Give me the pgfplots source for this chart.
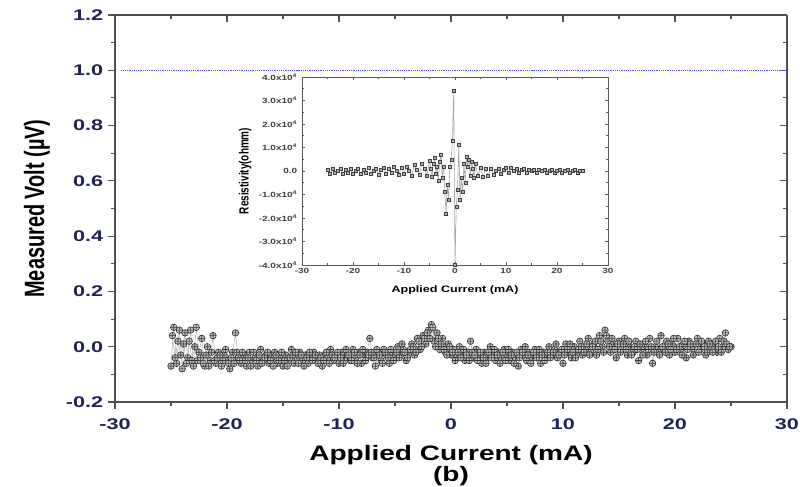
\documentclass[border=0pt]{standalone}
\usepackage{pgfplots}
\pgfplotsset{compat=1.18}
\usepackage{fontspec}
\setmainfont{Liberation Sans}
\definecolor{ticknavy}{RGB}{30,34,84}
\definecolor{axgray}{RGB}{80,80,80}

\pgfplotstableread{
x y
-25.00 -0.07
-24.75 0.07
-24.50 -0.06
-24.25 0.06
-24.00 -0.08
-23.75 0.05
-23.50 -0.04
-23.25 0.06
-23.00 -0.07
-22.75 0.07
-22.50 -0.02
-22.25 0.03
-22.00 -0.07
-21.75 0.00
-21.50 -0.05
-21.25 0.04
-21.00 -0.06
-20.75 -0.02
-20.50 -0.07
-20.25 -0.03
-20.00 -0.05
-19.75 -0.08
-19.50 -0.02
-19.25 0.05
-19.00 -0.04
-18.75 -0.06
-18.50 -0.03
-18.25 -0.07
-18.00 -0.02
-17.75 -0.05
-17.50 -0.04
-17.25 -0.07
-17.00 -0.01
-16.75 -0.05
-16.50 -0.03
-16.25 -0.06
-16.00 -0.04
-15.75 -0.02
-15.50 -0.06
-15.25 -0.04
-15.00 -0.07
-14.75 -0.03
-14.50 -0.05
-14.25 -0.01
-14.00 -0.06
-13.75 -0.04
-13.50 -0.02
-13.25 -0.05
-13.00 -0.03
-12.75 -0.06
-12.50 -0.04
-12.25 -0.02
-12.00 -0.05
-11.75 -0.03
-11.50 -0.07
-11.25 -0.03
-11.00 -0.04
-10.75 -0.01
-10.50 -0.05
-10.25 -0.03
-10.00 -0.06
-9.75 -0.02
-9.50 -0.04
-9.25 -0.03
-9.00 -0.05
-8.75 -0.01
-8.50 -0.04
-8.25 -0.02
-8.00 -0.06
-7.75 -0.03
-7.50 -0.02
-7.25 0.03
-7.00 -0.04
-6.75 -0.07
-6.50 -0.02
-6.25 -0.05
-6.00 -0.01
-5.75 -0.03
-5.50 -0.06
-5.25 -0.02
-5.00 -0.04
-4.75 0.00
-4.50 -0.03
-4.25 -0.01
-4.00 -0.05
-3.75 -0.02
-3.50 0.01
-3.25 -0.03
-3.00 0.03
-2.75 -0.01
-2.50 0.04
-2.25 0.01
-2.00 0.06
-1.75 0.08
-1.50 0.02
-1.25 0.05
-1.00 -0.01
-0.75 0.03
-0.50 -0.02
-0.25 0.01
0.00 -0.03
0.25 -0.01
0.50 -0.04
0.75 0.00
1.00 -0.03
1.25 -0.05
1.50 -0.02
1.75 0.02
2.00 -0.04
2.25 -0.01
2.50 -0.03
2.75 -0.06
3.00 -0.02
3.25 -0.04
3.50 0.00
3.75 -0.03
4.00 -0.05
4.25 -0.02
4.50 -0.04
4.75 -0.01
5.00 -0.03
5.25 -0.05
5.50 -0.02
5.75 -0.04
6.00 -0.07
6.25 -0.01
6.50 -0.03
6.75 -0.05
7.00 -0.02
7.25 -0.04
7.50 -0.01
7.75 -0.03
8.00 -0.06
8.25 -0.02
8.50 -0.04
8.75 0.00
9.00 -0.03
9.25 -0.01
9.50 -0.04
9.75 -0.02
10.00 -0.06
10.25 0.01
10.50 -0.02
10.75 -0.04
11.00 0.00
11.25 -0.02
11.50 0.02
11.75 -0.03
12.00 -0.01
12.25 0.03
12.50 -0.02
12.75 0.01
13.00 -0.03
13.25 0.04
13.50 0.00
13.75 0.06
14.00 0.02
14.25 -0.02
14.50 0.01
14.75 -0.04
15.00 0.02
15.25 -0.01
15.50 0.03
15.75 -0.03
16.00 0.00
16.25 -0.02
16.50 0.02
16.75 -0.05
17.00 -0.01
17.25 0.01
17.50 -0.03
17.75 0.03
18.00 -0.06
18.25 0.00
18.50 -0.02
18.75 0.04
19.00 -0.01
19.25 0.02
19.50 -0.03
19.75 0.01
20.00 -0.02
20.25 0.03
20.50 -0.01
20.75 0.01
21.00 -0.04
21.25 0.02
21.50 0.00
21.75 -0.02
22.00 0.03
22.25 -0.01
22.50 0.01
22.75 -0.03
23.00 0.02
23.25 -0.01
23.50 0.01
23.75 -0.02
24.00 0.03
24.25 0.00
24.50 0.05
24.75 -0.01
25.00 0.00
}\voltdata

\pgfplotstableread{
x y
-24.875 0.04
-24.625 -0.04
-24.375 0.02
-24.125 -0.03
-23.875 0.01
-23.625 -0.06
-23.375 0.02
-23.125 -0.05
-22.875 0.00
-22.625 -0.05
-22.375 -0.04
-22.125 -0.06
-21.875 -0.03
-21.625 -0.07
-21.375 -0.02
-21.125 -0.05
-20.875 -0.04
-20.625 -0.03
-20.375 -0.05
-20.125 -0.01
-19.875 -0.06
-19.625 -0.04
-19.375 -0.06
-19.125 -0.02
-18.875 -0.05
-18.625 -0.02
-18.375 -0.05
-18.125 -0.04
-17.875 -0.07
-17.625 -0.02
-17.375 -0.05
-17.125 -0.03
-16.875 -0.06
-16.625 -0.04
-16.375 -0.02
-16.125 -0.05
-15.875 -0.07
-15.625 -0.03
-15.375 -0.05
-15.125 -0.02
-14.875 -0.05
-14.625 -0.07
-14.375 -0.04
-14.125 -0.03
-13.875 -0.02
-13.625 -0.06
-13.375 -0.03
-13.125 -0.07
-12.875 -0.04
-12.625 -0.02
-12.375 -0.05
-12.125 -0.03
-11.875 -0.06
-11.625 -0.04
-11.375 -0.05
-11.125 -0.02
-10.875 -0.06
-10.625 -0.03
-10.375 -0.04
-10.125 -0.02
-9.875 -0.04
-9.625 -0.06
-9.375 -0.01
-9.125 -0.03
-8.875 -0.05
-8.625 -0.02
-8.375 -0.06
-8.125 -0.03
-7.875 -0.01
-7.625 -0.05
-7.375 -0.03
-7.125 -0.02
-6.875 -0.04
-6.625 -0.01
-6.375 -0.03
-6.125 -0.06
-5.875 -0.02
-5.625 -0.04
-5.375 -0.01
-5.125 -0.05
-4.875 -0.02
-4.625 -0.04
-4.375 0.01
-4.125 -0.02
-3.875 -0.04
-3.625 -0.01
-3.375 0.00
-3.125 -0.02
-2.875 0.02
-2.625 0.00
-2.375 0.03
-2.125 0.05
-1.875 0.03
-1.625 0.07
-1.375 0.00
-1.125 0.03
-0.875 0.01
-0.625 -0.01
-0.375 -0.03
-0.125 0.00
0.125 -0.02
0.375 -0.05
0.625 -0.02
0.875 -0.04
1.125 -0.01
1.375 -0.03
1.625 -0.05
1.875 -0.02
2.125 -0.03
2.375 -0.05
2.625 -0.02
2.875 -0.04
3.125 -0.06
3.375 -0.02
3.625 -0.04
3.875 -0.01
4.125 -0.03
4.375 -0.06
4.625 -0.02
4.875 -0.05
5.125 -0.01
5.375 -0.03
5.625 -0.06
5.875 -0.02
6.125 -0.04
6.375 -0.02
6.625 0.00
6.875 -0.03
7.125 -0.06
7.375 -0.02
7.625 -0.04
7.875 -0.01
8.125 -0.03
8.375 -0.05
8.625 -0.02
8.875 -0.04
9.125 -0.02
9.375 0.01
9.625 -0.03
9.875 -0.01
10.125 -0.03
10.375 -0.01
10.625 0.01
10.875 -0.02
11.125 -0.04
11.375 -0.01
11.625 0.00
11.875 -0.02
12.125 0.01
12.375 -0.03
12.625 0.00
12.875 0.02
13.125 -0.01
13.375 0.02
13.625 -0.02
13.875 0.04
14.125 0.00
14.375 0.03
14.625 -0.01
14.875 0.01
15.125 -0.02
15.375 0.01
15.625 -0.01
15.875 0.02
16.125 -0.03
16.375 0.00
16.625 -0.01
16.875 0.01
17.125 -0.03
17.375 0.02
17.625 -0.01
17.875 0.00
18.125 -0.02
18.375 0.02
18.625 -0.03
18.875 0.00
19.125 -0.02
19.375 0.01
19.625 -0.01
19.875 0.03
20.125 -0.01
20.375 0.00
20.625 -0.03
20.875 0.02
21.125 -0.01
21.375 0.01
21.625 -0.03
21.875 0.01
22.125 -0.02
22.375 0.02
22.625 0.00
22.875 -0.02
23.125 0.01
23.375 -0.02
23.625 0.02
23.875 0.00
24.125 -0.02
24.375 0.02
24.625 0.01
24.875 0.00
}\voltdataB

\pgfplotstableread{
x y
-25.0 0.05
-24.5 -0.10
-24.0 0.10
-23.5 -0.05
-23.0 0.00
-22.5 0.10
-22.0 -0.10
-21.5 0.05
-21.0 -0.05
-20.5 0.10
-20.0 -0.10
-19.5 0.00
-19.0 0.10
-18.5 -0.10
-18.0 0.05
-17.5 -0.05
-17.0 0.15
-16.5 -0.10
-16.0 0.00
-15.5 0.10
-15.0 -0.15
-14.5 0.05
-14.0 0.15
-13.5 -0.10
-13.0 0.10
-12.5 -0.05
-12.0 0.20
-11.5 0.00
-11.0 -0.15
-10.5 0.15
-10.0 -0.10
-9.5 0.20
-9.0 0.00
-8.5 -0.20
-8.0 0.25
-7.5 0.05
-7.0 -0.15
-6.5 0.30
-6.0 0.10
-5.5 -0.20
-5.0 0.45
-4.75 0.10
-4.5 -0.25
-4.25 0.30
-4.0 0.55
-3.75 -0.10
-3.5 0.20
-3.25 -0.40
-3.0 0.40
-2.75 0.70
-2.5 -0.30
-2.25 0.20
-2.0 -0.90
-1.75 -1.80
-1.5 -0.60
-1.25 -1.20
-1.0 0.20
-0.75 0.50
-0.5 1.30
-0.25 3.40
0.0 -4.00
0.25 -1.50
0.5 -0.80
0.75 1.10
1.0 -1.20
1.25 -0.30
1.5 -0.90
1.75 0.30
2.0 -0.50
2.25 0.60
2.5 0.20
2.75 0.50
3.0 -0.20
3.25 0.40
3.5 0.10
3.75 -0.30
4.0 0.30
4.5 -0.20
5.0 0.15
5.5 -0.25
6.0 0.10
6.5 -0.20
7.0 0.10
7.5 -0.15
8.0 0.00
8.5 0.10
9.0 -0.10
9.5 0.05
10.0 0.15
10.5 -0.05
11.0 0.15
11.5 0.00
12.0 0.10
12.5 -0.05
13.0 0.05
13.5 0.10
14.0 -0.05
14.5 0.05
15.0 0.00
15.5 0.05
16.0 -0.05
16.5 0.05
17.0 0.00
17.5 0.05
18.0 -0.05
18.5 0.00
19.0 0.05
19.5 -0.05
20.0 0.00
20.5 0.05
21.0 -0.05
21.5 0.00
22.0 0.05
22.5 -0.05
23.0 0.00
23.5 0.05
24.0 -0.05
24.5 0.00
25.0 0.00
}\resdata

\begin{document}
\begin{tikzpicture}
\useasboundingbox (-115bp,-85bp) rectangle (690bp,402bp);

% top/right mirrored ticks (inside)
\begin{axis}[
  at={(0bp,0bp)}, anchor=south west, scale only axis,
  width=672bp, height=387bp,
  xmin=-30, xmax=30, ymin=-0.2, ymax=1.2,
  axis x line*=top, axis y line*=right,
  xtick={-30,-20,-10,0,10,20,30}, ytick={-0.2,0,0.2,0.4,0.6,0.8,1.0,1.2},
  minor x tick num=1, minor y tick num=1,
  xticklabels={}, yticklabels={},
  tick align=inside, major tick length=7bp, minor tick length=4bp,
  axis line style={axgray, line width=1.3bp},
  tick style={axgray, line width=1.1bp},
]
\end{axis}

\begin{axis}[
  at={(0bp,0bp)}, anchor=south west, scale only axis,
  width=672bp, height=387bp,
  xmin=-30, xmax=30, ymin=-0.2, ymax=1.2,
  axis x line*=bottom, axis y line*=left,
  clip=false,
  xtick={-30,-20,-10,0,10,20,30},
  xticklabels={-30,-20,-10,0,10,20,30},
  ytick={-0.2,0,0.2,0.4,0.6,0.8,1.0,1.2},
  yticklabels={-0.2,0.0,0.2,0.4,0.6,0.8,1.0,1.2},
  minor x tick num=1, minor y tick num=1,
  tick align=outside, major tick length=7bp, minor tick length=4bp,
  axis line style={axgray, line width=1.3bp},
  tick style={axgray, line width=1.1bp},
  ticklabel style={font=\fontsize{15.5}{16}\selectfont\bfseries, text=ticknavy, xscale=1.4},
  xticklabel style={yshift=-6bp},
  xlabel={Applied Current (mA)},
  xlabel style={font=\fontsize{21}{22}\selectfont\bfseries, xscale=1.34,
    at={(axis description cs:0.5,-0.1499)}, anchor=base},
  ylabel={Measured Volt (µV)},
  ylabel style={font=\fontsize{20}{21}\selectfont\bfseries, yscale=1.4,
    at={(axis description cs:-0.1161,0.5)}, anchor=center},
]
\addplot[blue!70, densely dotted, line width=1.2bp] coordinates {(-29.5,1) (30,1)};
\addplot[gray!60, line width=0.5bp, mark=oplus*, mark size=3.3bp,
  mark options={fill=gray!50, draw=black!80, line width=0.6bp, solid}]
  table[x=x, y=y] {\voltdata};
\addplot[gray!60, line width=0.5bp, mark=oplus*, mark size=3.3bp,
  mark options={fill=gray!50, draw=black!80, line width=0.6bp, solid}]
  table[x=x, y=y] {\voltdataB};
\node[font=\fontsize{21}{22}\selectfont\bfseries, xscale=1.34] at (axis description cs:0.5,-0.191) {(b)};
\end{axis}

% inset
\begin{axis}[
  at={(187bp,137bp)}, anchor=south west, scale only axis,
  width=306bp, height=188bp,
  xmin=-30, xmax=30, ymin=-4, ymax=4,
  axis background/.style={fill=white},
  xtick={-30,-20,-10,0,10,20,30},
  xticklabels={-30,-20,-10,0,10,20,30},
  ytick={-4,-3,-2,-1,0,1,2,3,4},
  yticklabels={-4.0x10\textsuperscript{4},-3.0x10\textsuperscript{4},-2.0x10\textsuperscript{4},-1.0x10\textsuperscript{4},0.0,1.0x10\textsuperscript{4},2.0x10\textsuperscript{4},3.0x10\textsuperscript{4},4.0x10\textsuperscript{4}},
  minor x tick num=1, minor y tick num=1,
  tick align=inside, major tick length=3bp, minor tick length=2bp,
  axis line style={black!65, line width=0.8bp},
  tick style={black!65, line width=0.6bp},
  ticklabel style={font=\fontsize{7.5}{8}\selectfont\bfseries, text=black!75, xscale=1.34},
  xlabel={Applied Current (mA)},
  xlabel style={font=\fontsize{9.4}{10}\selectfont\bfseries, xscale=1.34,
    at={(axis description cs:0.5,-0.133)}, anchor=center},
  ylabel={Resistivity(ohmm)},
  ylabel style={font=\fontsize{10}{11}\selectfont\bfseries, yscale=1.34,
    at={(axis description cs:-0.186,0.5)}, anchor=center},
]
\addplot[gray!70, line width=0.6bp, mark=square*, mark size=1.5bp,
  mark options={fill=gray!60, draw=black!75, line width=0.35bp, solid}]
  table[x=x, y=y] {\resdata};
\end{axis}
\end{tikzpicture}
\end{document}
